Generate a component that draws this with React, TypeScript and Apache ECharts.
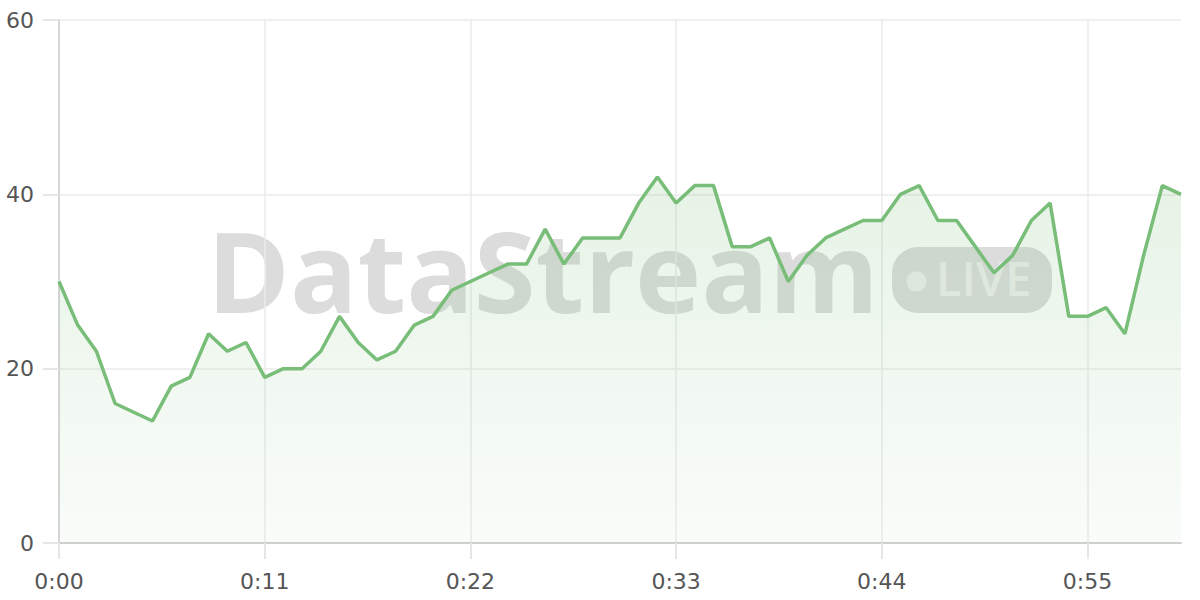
import React, { useEffect, useRef } from "react";
import * as echarts from "echarts";

const values: number[] = [
  30, 25, 22, 16, 15, 14, 18, 19, 24, 22,
  23, 19, 20, 20, 22, 26, 23, 21, 22, 25,
  26, 29, 30, 31, 32, 32, 36, 32, 35, 35,
  35, 39, 42, 39, 41, 41, 34, 34, 35, 30,
  33, 35, 36, 37, 37, 40, 41, 37, 37, 34,
  31, 33, 37, 39, 26, 26, 27, 24, 33, 41,
  40,
];

const categories: string[] = values.map((_, i) => `${Math.floor(i / 60)}:${String(i % 60).padStart(2, "0")}`);

const yTicks = { min: 0, max: 60, interval: 20 };
const watermarkText = "DataStream";
const badgeText = "LIVE";

export default function App() {
  const ref = useRef<HTMLDivElement>(null);
  useEffect(() => {
    if (!ref.current) return;
    const chart = echarts.init(ref.current, null, { renderer: "svg" });
    const font = "'DejaVu Sans', sans-serif";
    chart.setOption({
      animation: false,
      backgroundColor: "#ffffff",
      grid: { left: 59, right: 19, top: 20, bottom: 57, containLabel: false },
      graphic: [
        {
          type: "group",
          z: -10,
          silent: true,
          children: [
            {
              type: "text",
              z: -10,
              x: 207,
              y: 269,
              style: {
                text: watermarkText,
                font: "bold 112px 'Open Sans', sans-serif",
                fill: "#dcdcdc",
                align: "left",
                verticalAlign: "middle",
              },
            },
            {
              type: "rect",
              z: -10,
              shape: { x: 892, y: 247, width: 160, height: 66, r: 26 },
              style: { fill: "#dcdcdc" },
            },
            {
              type: "circle",
              z: -9,
              shape: { cx: 916.5, cy: 281.5, r: 10 },
              style: { fill: "#eeeeee" },
            },
            {
              type: "text",
              z: -9,
              x: 936,
              y: 278,
              style: {
                text: badgeText,
                font: "600 47px 'Open Sans', sans-serif",
                fill: "#eeeeee",
                align: "left",
                verticalAlign: "middle",
              },
            },
          ],
        },
      ],
      xAxis: {
        type: "category",
        data: categories,
        boundaryGap: false,
        axisLine: { show: true, lineStyle: { color: "#cfcfcf", width: 2 } },
        axisTick: { show: true, interval: 10, length: 16, lineStyle: { color: "#e6e6e6", width: 2 } },
        axisLabel: { interval: 10, margin: 27, color: "#555555", fontSize: 22, fontFamily: font },
        splitLine: { show: true, interval: 10, lineStyle: { color: "#ebebeb", width: 1.5 } },
      },
      yAxis: {
        type: "value",
        min: yTicks.min,
        max: yTicks.max,
        interval: yTicks.interval,
        axisLine: { show: true, lineStyle: { color: "#d6d6d6", width: 2 } },
        axisTick: { show: true, length: 16, lineStyle: { color: "#e6e6e6", width: 2 } },
        axisLabel: { margin: 25, color: "#555555", fontSize: 22, fontFamily: font },
        splitLine: { show: true, lineStyle: { color: "#ebebeb", width: 1.5 } },
      },
      series: [
        {
          type: "line",
          data: values,
          showSymbol: false,
          symbol: "none",
          lineStyle: { color: "#78bd78", width: 3.5 },
          itemStyle: { color: "#78bd78" },
          areaStyle: {
            color: new echarts.graphic.LinearGradient(0, 0, 0, 1, [
              { offset: 0, color: "rgba(120,189,120,0.26)" },
              { offset: 1, color: "rgba(120,189,120,0.06)" },
            ]),
          },
        },
      ],
    });
    return () => chart.dispose();
  }, []);
  return (
    <div
      ref={ref}
      style={{ position: "fixed", left: 0, top: 0, width: 1200, height: 600 }}
    />
  );
}
